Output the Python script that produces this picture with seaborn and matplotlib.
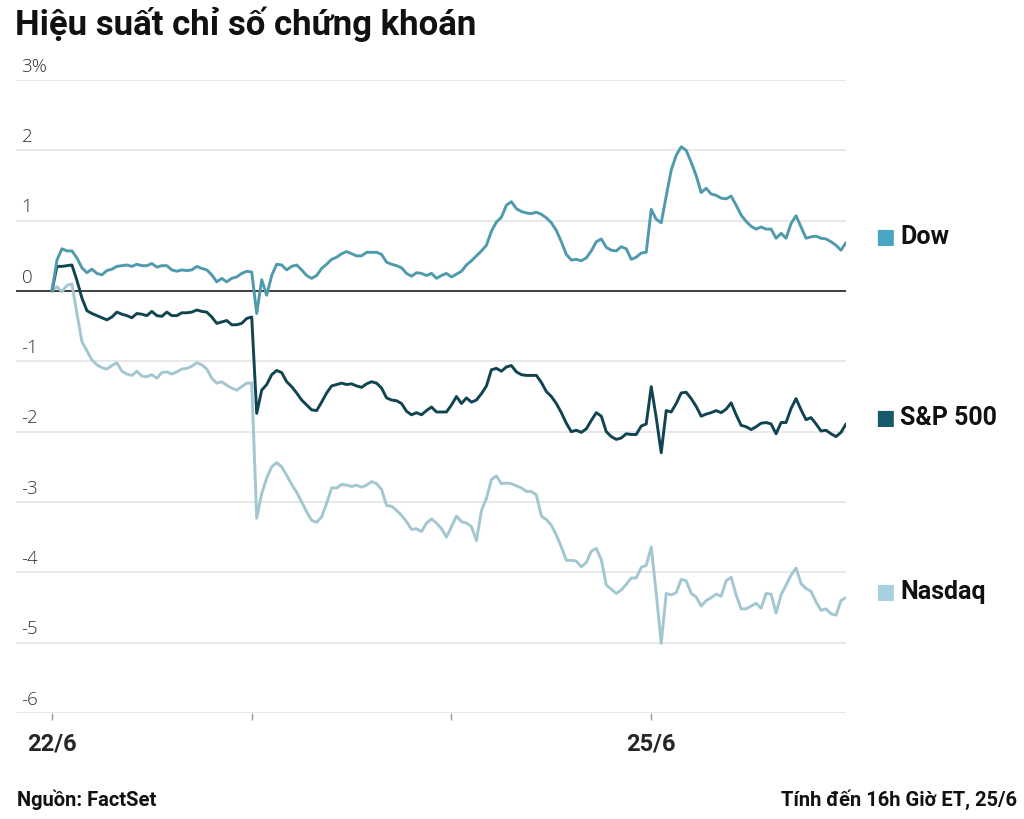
import numpy as np
import pandas as pd
import matplotlib.pyplot as plt
import matplotlib.transforms as mtransforms
import seaborn as sns

# % change since the 22/6 open, one reading per ~10-minute bar (40 bars a session)
dow = [
    0.00, 0.44, 0.60, 0.57, 0.57, 0.47, 0.33, 0.26, 0.31, 0.25,
    0.23, 0.29, 0.31, 0.35, 0.36, 0.37, 0.35, 0.38, 0.36, 0.36,
    0.39, 0.34, 0.36, 0.36, 0.30, 0.28, 0.30, 0.29, 0.30, 0.35,
    0.32, 0.30, 0.23, 0.13, 0.18, 0.13, 0.18, 0.20, 0.25, 0.28,
    0.27, -0.32, 0.16, -0.06, 0.22, 0.38, 0.37, 0.30, 0.35, 0.37,
    0.30, 0.22, 0.18, 0.22, 0.32, 0.38, 0.45, 0.48, 0.53, 0.56,
    0.53, 0.50, 0.50, 0.55, 0.55, 0.55, 0.52, 0.41, 0.38, 0.36,
    0.33, 0.25, 0.21, 0.26, 0.25, 0.22, 0.25, 0.18, 0.22, 0.25,
    0.20, 0.24, 0.28, 0.37, 0.43, 0.50, 0.57, 0.65, 0.85, 0.98,
    1.05, 1.22, 1.27, 1.17, 1.13, 1.11, 1.10, 1.12, 1.09, 1.04,
    0.97, 0.86, 0.70, 0.52, 0.44, 0.45, 0.43, 0.47, 0.57, 0.70,
    0.74, 0.62, 0.58, 0.57, 0.63, 0.60, 0.45, 0.48, 0.54, 0.55,
    1.16, 1.02, 0.97, 1.35, 1.72, 1.93, 2.05, 2.00, 1.83, 1.64,
    1.40, 1.46, 1.38, 1.36, 1.32, 1.31, 1.35, 1.22, 1.08, 0.99,
    0.92, 0.88, 0.91, 0.88, 0.88, 0.75, 0.82, 0.75, 0.96, 1.07,
    0.91, 0.75, 0.77, 0.78, 0.75, 0.74, 0.70, 0.65, 0.58, 0.69,
]
sp500 = [
    0.00, 0.35, 0.35, 0.36, 0.37, 0.15, -0.10, -0.28, -0.32, -0.35,
    -0.38, -0.41, -0.37, -0.30, -0.33, -0.35, -0.38, -0.32, -0.33, -0.35,
    -0.29, -0.35, -0.36, -0.30, -0.35, -0.35, -0.31, -0.31, -0.30, -0.27,
    -0.29, -0.30, -0.37, -0.46, -0.44, -0.42, -0.48, -0.48, -0.46, -0.39,
    -0.37, -1.74, -1.41, -1.33, -1.19, -1.13, -1.16, -1.29, -1.36, -1.45,
    -1.55, -1.62, -1.69, -1.70, -1.58, -1.45, -1.35, -1.33, -1.31, -1.33,
    -1.32, -1.35, -1.37, -1.32, -1.29, -1.31, -1.38, -1.52, -1.55, -1.56,
    -1.60, -1.71, -1.76, -1.73, -1.76, -1.70, -1.65, -1.72, -1.72, -1.72,
    -1.62, -1.50, -1.60, -1.52, -1.58, -1.55, -1.46, -1.35, -1.12, -1.10,
    -1.14, -1.08, -1.06, -1.15, -1.19, -1.20, -1.20, -1.20, -1.30, -1.43,
    -1.50, -1.60, -1.73, -1.88, -2.00, -1.98, -2.01, -1.96, -1.84, -1.73,
    -1.78, -2.00, -2.07, -2.11, -2.09, -2.03, -2.04, -2.04, -1.92, -1.89,
    -1.36, -1.80, -2.30, -1.70, -1.72, -1.60, -1.45, -1.44, -1.53, -1.64,
    -1.78, -1.75, -1.73, -1.70, -1.73, -1.68, -1.59, -1.76, -1.91, -1.93,
    -1.97, -1.93, -1.88, -1.87, -1.89, -2.03, -1.87, -1.87, -1.67, -1.53,
    -1.69, -1.83, -1.80, -1.89, -1.99, -1.98, -2.03, -2.07, -2.01, -1.89,
]
nasdaq = [
    0.00, 0.06, -0.01, 0.08, 0.10, -0.32, -0.72, -0.85, -0.98, -1.05,
    -1.09, -1.11, -1.06, -1.02, -1.14, -1.18, -1.20, -1.14, -1.21, -1.22,
    -1.19, -1.24, -1.16, -1.15, -1.18, -1.15, -1.11, -1.10, -1.07, -1.02,
    -1.05, -1.11, -1.24, -1.31, -1.29, -1.34, -1.38, -1.41, -1.36, -1.31,
    -1.31, -3.23, -2.88, -2.66, -2.50, -2.44, -2.50, -2.62, -2.75, -2.86,
    -3.00, -3.14, -3.26, -3.29, -3.21, -3.02, -2.80, -2.80, -2.75, -2.76,
    -2.78, -2.76, -2.79, -2.76, -2.71, -2.74, -2.82, -3.05, -3.06, -3.12,
    -3.19, -3.28, -3.39, -3.38, -3.42, -3.30, -3.24, -3.30, -3.38, -3.50,
    -3.35, -3.20, -3.28, -3.30, -3.35, -3.55, -3.12, -2.95, -2.68, -2.63,
    -2.74, -2.73, -2.74, -2.77, -2.80, -2.85, -2.85, -2.90, -3.20, -3.25,
    -3.33, -3.47, -3.64, -3.83, -3.83, -3.84, -3.92, -3.86, -3.70, -3.66,
    -3.82, -4.18, -4.24, -4.30, -4.25, -4.17, -4.08, -4.08, -3.93, -3.90,
    -3.64, -4.30, -5.01, -4.30, -4.32, -4.29, -4.10, -4.12, -4.30, -4.35,
    -4.48, -4.40, -4.36, -4.31, -4.34, -4.12, -4.07, -4.32, -4.52, -4.52,
    -4.48, -4.44, -4.51, -4.30, -4.31, -4.58, -4.32, -4.18, -4.04, -3.94,
    -4.16, -4.23, -4.27, -4.42, -4.54, -4.52, -4.59, -4.61, -4.40, -4.36,
]

series_names = ["Dow", "S&P 500", "Nasdaq"]
line_colors = ["#4f9bad", "#0f4450", "#a3c7d1"]
key_colors = ["#4aa5c3", "#175a69", "#a8d0df"]
y_ticks = [3, 2, 1, 0, -1, -2, -3, -4, -5, -6]
y_labels = ["3%", "2", "1", "0", "-1", "-2", "-3", "-4", "-5", "-6"]
day_ticks = [0, 1, 2, 3]
day_labels = ["22/6", "", "", "25/6"]
BARS_PER_DAY = 40

frames = []
for name, vals in zip(series_names, [dow, sp500, nasdaq]):
    frames.append(pd.DataFrame({
        "day": np.arange(len(vals)) / BARS_PER_DAY,
        "pct": vals,
        "index": name,
    }))
df = pd.concat(frames, ignore_index=True)

sns.set_theme(style="white")
bold_font = ["Liberation Sans Narrow", "DejaVu Sans Condensed", "Roboto"]
light_font = ["Open Sans", "DejaVu Sans"]
plt.rcParams["font.family"] = light_font

fig = plt.figure(figsize=(10.24, 8.19), dpi=100)
ax = fig.add_axes([16 / 1024, 106 / 819, 830 / 1024, 633 / 819])

sns.lineplot(
    data=df, x="day", y="pct", hue="index",
    hue_order=["Nasdaq", "S&P 500", "Dow"],
    palette=dict(zip(series_names, line_colors)),
    linewidth=2.1, legend=False, ax=ax, sort=False,
)

ax.set_xlim(-0.18, 3.975)
ax.set_ylim(-6, 3)
ax.set_yticks(y_ticks)
ax.set_yticklabels([])
ax.yaxis.grid(True, color="#e2e2e2", linewidth=1.1)
ax.axhline(0, color="#111111", linewidth=1.1, zorder=1)
for s in ax.spines.values():
    s.set_visible(False)
ax.tick_params(axis="y", length=0)
ax.set_xticks(day_ticks)
ax.set_xticklabels(day_labels, family=bold_font, fontweight="bold", fontsize=17)
ax.tick_params(axis="x", length=5, width=1, color="#999999", pad=9, bottom=True)
ax.set_xlabel("")
ax.set_ylabel("")

# y labels sit just above their gridlines
blend = mtransforms.blended_transform_factory(ax.transAxes, ax.transData)
for val, lab in zip(y_ticks, y_labels):
    ax.annotate(lab, xy=(0, val), xycoords=blend, xytext=(4, 3),
                textcoords="offset points", va="bottom", ha="left",
                fontsize=13.5, color="#333333", fontweight="light")

# end-of-line keys
for name, vals, c in zip(series_names, [dow, sp500, nasdaq], key_colors):
    y = vals[-1] + 0.08
    ax.annotate("■", xy=(1, y), xycoords=blend, xytext=(21, 0),
                textcoords="offset points", va="center", ha="left",
                fontsize=15, color=c, annotation_clip=False,
                family=["DejaVu Sans"])
    ax.annotate(name, xy=(1, y), xycoords=blend, xytext=(39, 0),
                textcoords="offset points", va="center", ha="left",
                fontsize=18, fontweight="bold", color="#111111",
                family=bold_font, annotation_clip=False)

fig.text(15 / 1024, 1 - 7 / 819, "Hiệu suất chỉ số chứng khoán",
         family=bold_font, fontweight="bold", fontsize=25, va="top", ha="left",
         color="#111111")
fig.text(17 / 1024, 19 / 819, "Nguồn: FactSet", family=bold_font,
         fontweight="bold", fontsize=14.5, va="center", ha="left", color="#111111")
fig.text(1017 / 1024, 19 / 819, "Tính đến 16h Giờ ET, 25/6", family=bold_font,
         fontweight="bold", fontsize=14.5, va="center", ha="right", color="#111111")

fig.savefig("out.png", dpi=100, facecolor="white")
